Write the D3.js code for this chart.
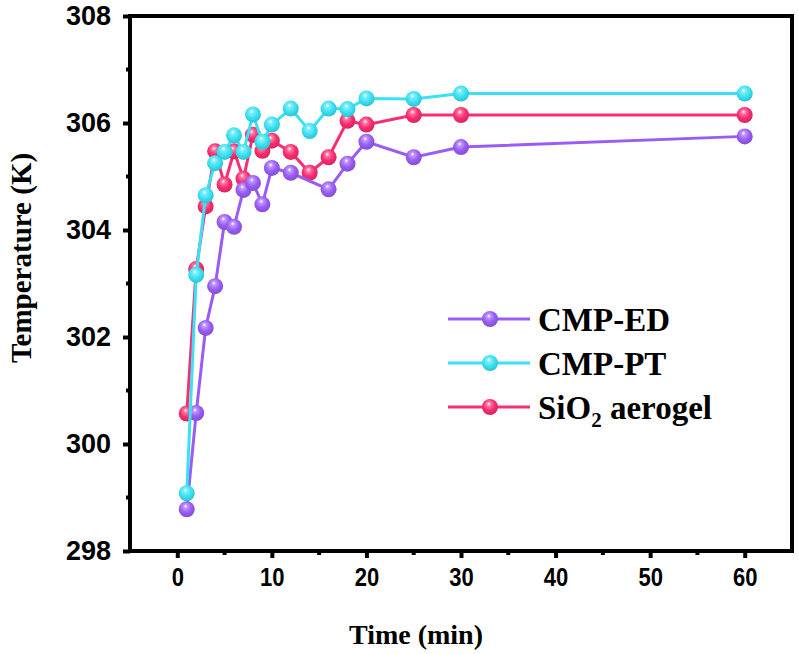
<!DOCTYPE html>
<html>
<head>
<meta charset="utf-8">
<script src="https://cdn.jsdelivr.net/npm/d3@7"></script>
<style>
html,body{margin:0;padding:0;background:#fff;}
svg{display:block;}
</style>
</head>
<body>
<svg id="chart" width="799" height="654"></svg>
<script>
// ---- data ----
const timeED = [1, 2, 3, 4, 5, 6, 7, 8, 9, 10, 12, 16, 18, 20, 25, 30, 60];
const tempED = [298.78, 300.58, 302.17, 302.95, 304.15, 304.06, 304.75, 304.88, 304.48, 305.16, 305.07, 304.76, 305.24, 305.65, 305.36, 305.55, 305.75];

const timePT = [1, 2, 3, 4, 5, 6, 7, 8, 9, 10, 12, 14, 16, 18, 20, 25, 30, 60];
const tempPT = [299.08, 303.16, 304.65, 305.25, 305.46, 305.77, 305.46, 306.16, 305.65, 305.97, 306.27, 305.85, 306.27, 306.26, 306.46, 306.45, 306.55, 306.55];

const timeSi = [1, 2, 3, 4, 5, 6, 7, 8, 9, 10, 12, 14, 16, 18, 20, 25, 30, 60];
const tempSi = [300.57, 303.27, 304.44, 305.47, 304.85, 305.47, 304.96, 305.78, 305.48, 305.67, 305.46, 305.07, 305.36, 306.04, 305.97, 306.15, 306.15, 306.15];

const seriesNames = ["CMP-ED", "CMP-PT", "SiO2 aerogel"];
const seriesColors = ["#9a5cf6", "#38e2f4", "#fb2c70"];

const xTicks = [0, 10, 20, 30, 40, 50, 60];
const yTicks = [298, 300, 302, 304, 306, 308];
const xDomain = [-5, 65];
const yDomain = [298, 308];

// ---- layout ----
const svg = d3.select("#chart");
const L = 130, R = 792, T = 16, B = 551;
const x = d3.scaleLinear().domain(xDomain).range([L, R]);
const y = d3.scaleLinear().domain(yDomain).range([B, T]);

// gradients for spheres
const defs = svg.append("defs");
seriesColors.forEach((c, i) => {
  const g = defs.append("radialGradient").attr("id", "grad" + i)
    .attr("cx", "0.45").attr("cy", "0.4").attr("r", "0.6")
    .attr("fx", "0.42").attr("fy", "0.3");
  g.append("stop").attr("offset", "0%").attr("stop-color", "#ffffff").attr("stop-opacity", 0.95);
  g.append("stop").attr("offset", "22%").attr("stop-color", d3.interpolateRgb(c, "#fff")(0.35));
  g.append("stop").attr("offset", "60%").attr("stop-color", c);
  g.append("stop").attr("offset", "100%").attr("stop-color", d3.interpolateRgb(c, "#000")(0.15));
});

// axes
const font = "'Liberation Sans', Arial, sans-serif";
const serif = "'Liberation Serif', 'Times New Roman', serif";

const xAxis = d3.axisBottom(x).tickValues(xTicks).tickSize(7).tickPadding(10).tickFormat(d3.format("d"));
const gx = svg.append("g").attr("transform", `translate(0,${B})`).call(xAxis);
const yAxis = d3.axisLeft(y).tickValues(yTicks).tickSize(7).tickPadding(12).tickFormat(d3.format("d"));
const gy = svg.append("g").attr("transform", `translate(${L},0)`).call(yAxis);

[gx, gy].forEach(g => {
  g.select(".domain").remove();
  g.selectAll(".tick line").attr("stroke", "#000").attr("stroke-width", 4);
  g.selectAll(".tick text").attr("fill", "#000").style("font-family", font).style("font-weight", "bold");
});
gx.selectAll(".tick text").style("font-size", "25px").attr("transform", "scale(0.88,1)");
gy.selectAll(".tick text").style("font-size", "27px");

// minor ticks
const xMinor = d3.range(-5, 66, 5).filter(v => !xTicks.includes(v) && v > xDomain[0] && v < xDomain[1]);
svg.append("g").selectAll("line").data(xMinor).join("line")
  .attr("x1", d => x(d)).attr("x2", d => x(d)).attr("y1", B).attr("y2", B + 4)
  .attr("stroke", "#000").attr("stroke-width", 4);
const yMinor = d3.range(299, 308, 2);
svg.append("g").selectAll("line").data(yMinor).join("line")
  .attr("x1", L - 4).attr("x2", L).attr("y1", d => y(d)).attr("y2", d => y(d))
  .attr("stroke", "#000").attr("stroke-width", 4);

// frame
svg.append("rect").attr("x", L).attr("y", T).attr("width", R - L).attr("height", B - T)
  .attr("fill", "none").attr("stroke", "#000").attr("stroke-width", 4);

// series
const data = [
  timeED.map((t, i) => [t, tempED[i]]),
  timePT.map((t, i) => [t, tempPT[i]]),
  timeSi.map((t, i) => [t, tempSi[i]])
];
const line = d3.line().x(d => x(d[0])).y(d => y(d[1]));
const order = [2, 0, 1];
order.forEach(i => {
  const g = svg.append("g");
  g.append("path").datum(data[i]).attr("d", line).attr("fill", "none")
    .attr("stroke", seriesColors[i]).attr("stroke-width", 3);
  g.selectAll("circle").data(data[i]).join("circle")
    .attr("cx", d => x(d[0])).attr("cy", d => y(d[1])).attr("r", 8)
    .attr("fill", `url(#grad${i})`);
});

// legend
const legX = 448, legY = 319, legDy = 44;
seriesNames.forEach((name, i) => {
  const gy0 = legY + i * legDy;
  svg.append("line").attr("x1", legX).attr("x2", legX + 82).attr("y1", gy0).attr("y2", gy0)
    .attr("stroke", seriesColors[i]).attr("stroke-width", 3);
  svg.append("circle").attr("cx", legX + 42).attr("cy", gy0).attr("r", 8).attr("fill", `url(#grad${i})`);
  const t = svg.append("text").attr("x", legX + 90).attr("y", gy0 + 12)
    .style("font-family", serif).style("font-weight", "bold").style("font-size", "33px").attr("fill", "#000");
  if (name === "SiO2 aerogel") {
    t.append("tspan").text("SiO");
    t.append("tspan").text("2").attr("dy", 8).style("font-size", "21px");
    t.append("tspan").text(" aerogel").attr("dy", -8);
  } else {
    t.text(name);
  }
});

// axis titles
svg.append("text").attr("x", 416).attr("y", 644).attr("text-anchor", "middle")
  .style("font-family", serif).style("font-weight", "bold").style("font-size", "28px")
  .attr("fill", "#000").text("Time (min)");
svg.append("text").attr("transform", `translate(31,258) rotate(-90)`).attr("text-anchor", "middle")
  .style("font-family", serif).style("font-weight", "bold").style("font-size", "29px")
  .attr("fill", "#000").text("Temperature (K)");
</script>
</body>
</html>
